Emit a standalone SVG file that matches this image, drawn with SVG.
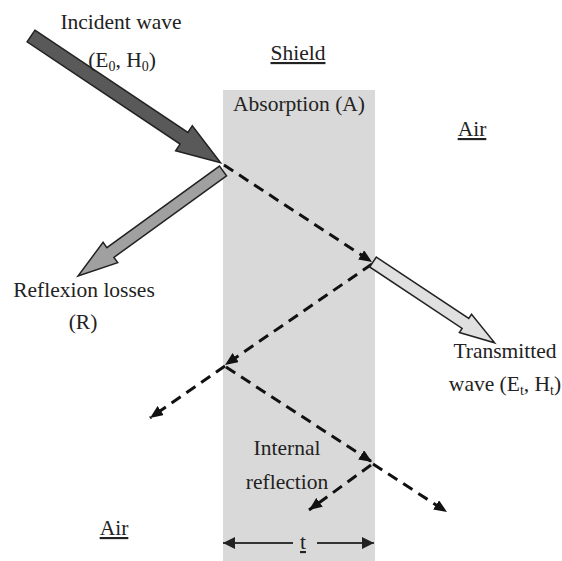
<svg xmlns="http://www.w3.org/2000/svg" width="562" height="561" viewBox="0 0 562 561">
<defs>
<style>
text{font-family:"Liberation Serif","Times New Roman",serif;font-size:21.5px;fill:#222;text-anchor:middle}
.sub{font-size:14px}
.dash{fill:none;stroke:#111;stroke-width:3;stroke-dasharray:11 7;marker-end:url(#ah)}
.dim{fill:none;stroke:#333;stroke-width:2;marker-end:url(#dh)}
.big{stroke:#222;stroke-width:1.5;stroke-linejoin:miter}
</style>
<marker id="ah" markerUnits="userSpaceOnUse" markerWidth="13" markerHeight="11" refX="13" refY="5.5" orient="auto"><path d="M0,0 L13,5.5 L0,11 z" fill="#111"/></marker>
<marker id="dh" markerUnits="userSpaceOnUse" markerWidth="12" markerHeight="12" refX="12" refY="6" orient="auto"><path d="M0,0 L12,6 L0,12 z" fill="#222"/></marker>
</defs>
<rect width="562" height="561" fill="#fff"/>
<g id="shield">
<rect x="223" y="90" width="152" height="471" fill="#d9d9d9"/>
</g>
<g id="connectors">
<line class="dash" x1="224" y1="165" x2="372" y2="262"/>
<line class="dash" x1="372" y1="264" x2="225" y2="365"/>
<line class="dash" x1="225" y1="366" x2="150" y2="418"/>
<line class="dash" x1="226" y1="367" x2="372" y2="462"/>
<line class="dash" x1="373" y1="464" x2="447" y2="512"/>
<line class="dash" x1="371" y1="465" x2="309" y2="510"/>
<line class="dim" x1="293" y1="543" x2="223" y2="543"/>
<line class="dim" x1="317" y1="543" x2="374" y2="543"/>
</g>
<g id="incident">
<polygon class="big" fill="#595959" transform="translate(31,36) rotate(33.76)" points="0,-7 184,-7 184,-15 228,0 184,15 184,7 0,7"/>
</g>
<g id="reflected">
<polygon class="big" fill="#a0a0a0" transform="translate(223,171) rotate(144.1)" points="0,-6 139,-6 139,-12.5 179,0 139,12.5 139,6 0,6"/>
</g>
<g id="transmitted">
<polygon class="big" fill="#e0e0e0" transform="translate(373,262) rotate(33.6)" points="0,-6 111,-6 111,-11 146,0 111,11 111,6 0,6"/>
</g>
<g id="labels">
<text x="121" y="29">Incident wave</text>
<text x="122" y="67">(E<tspan class="sub" dy="4">0</tspan><tspan dy="-4">, H</tspan><tspan class="sub" dy="4">0</tspan><tspan dy="-4">)</tspan></text>
<text x="298" y="60" text-decoration="underline">Shield</text>
<text x="299" y="111">Absorption (A)</text>
<text x="472" y="136" text-decoration="underline">Air</text>
<text x="84" y="297">Reflexion losses</text>
<text x="83" y="329">(R)</text>
<text x="505" y="358">Transmitted</text>
<text x="505" y="391">wave (E<tspan class="sub" dy="4">t</tspan><tspan dy="-4">, H</tspan><tspan class="sub" dy="4">t</tspan><tspan dy="-4">)</tspan></text>
<text x="287" y="455">Internal</text>
<text x="287" y="489">reflection</text>
<text x="114" y="535" text-decoration="underline">Air</text>
<text x="303" y="549" text-decoration="underline">t</text>
</g>
</svg>
